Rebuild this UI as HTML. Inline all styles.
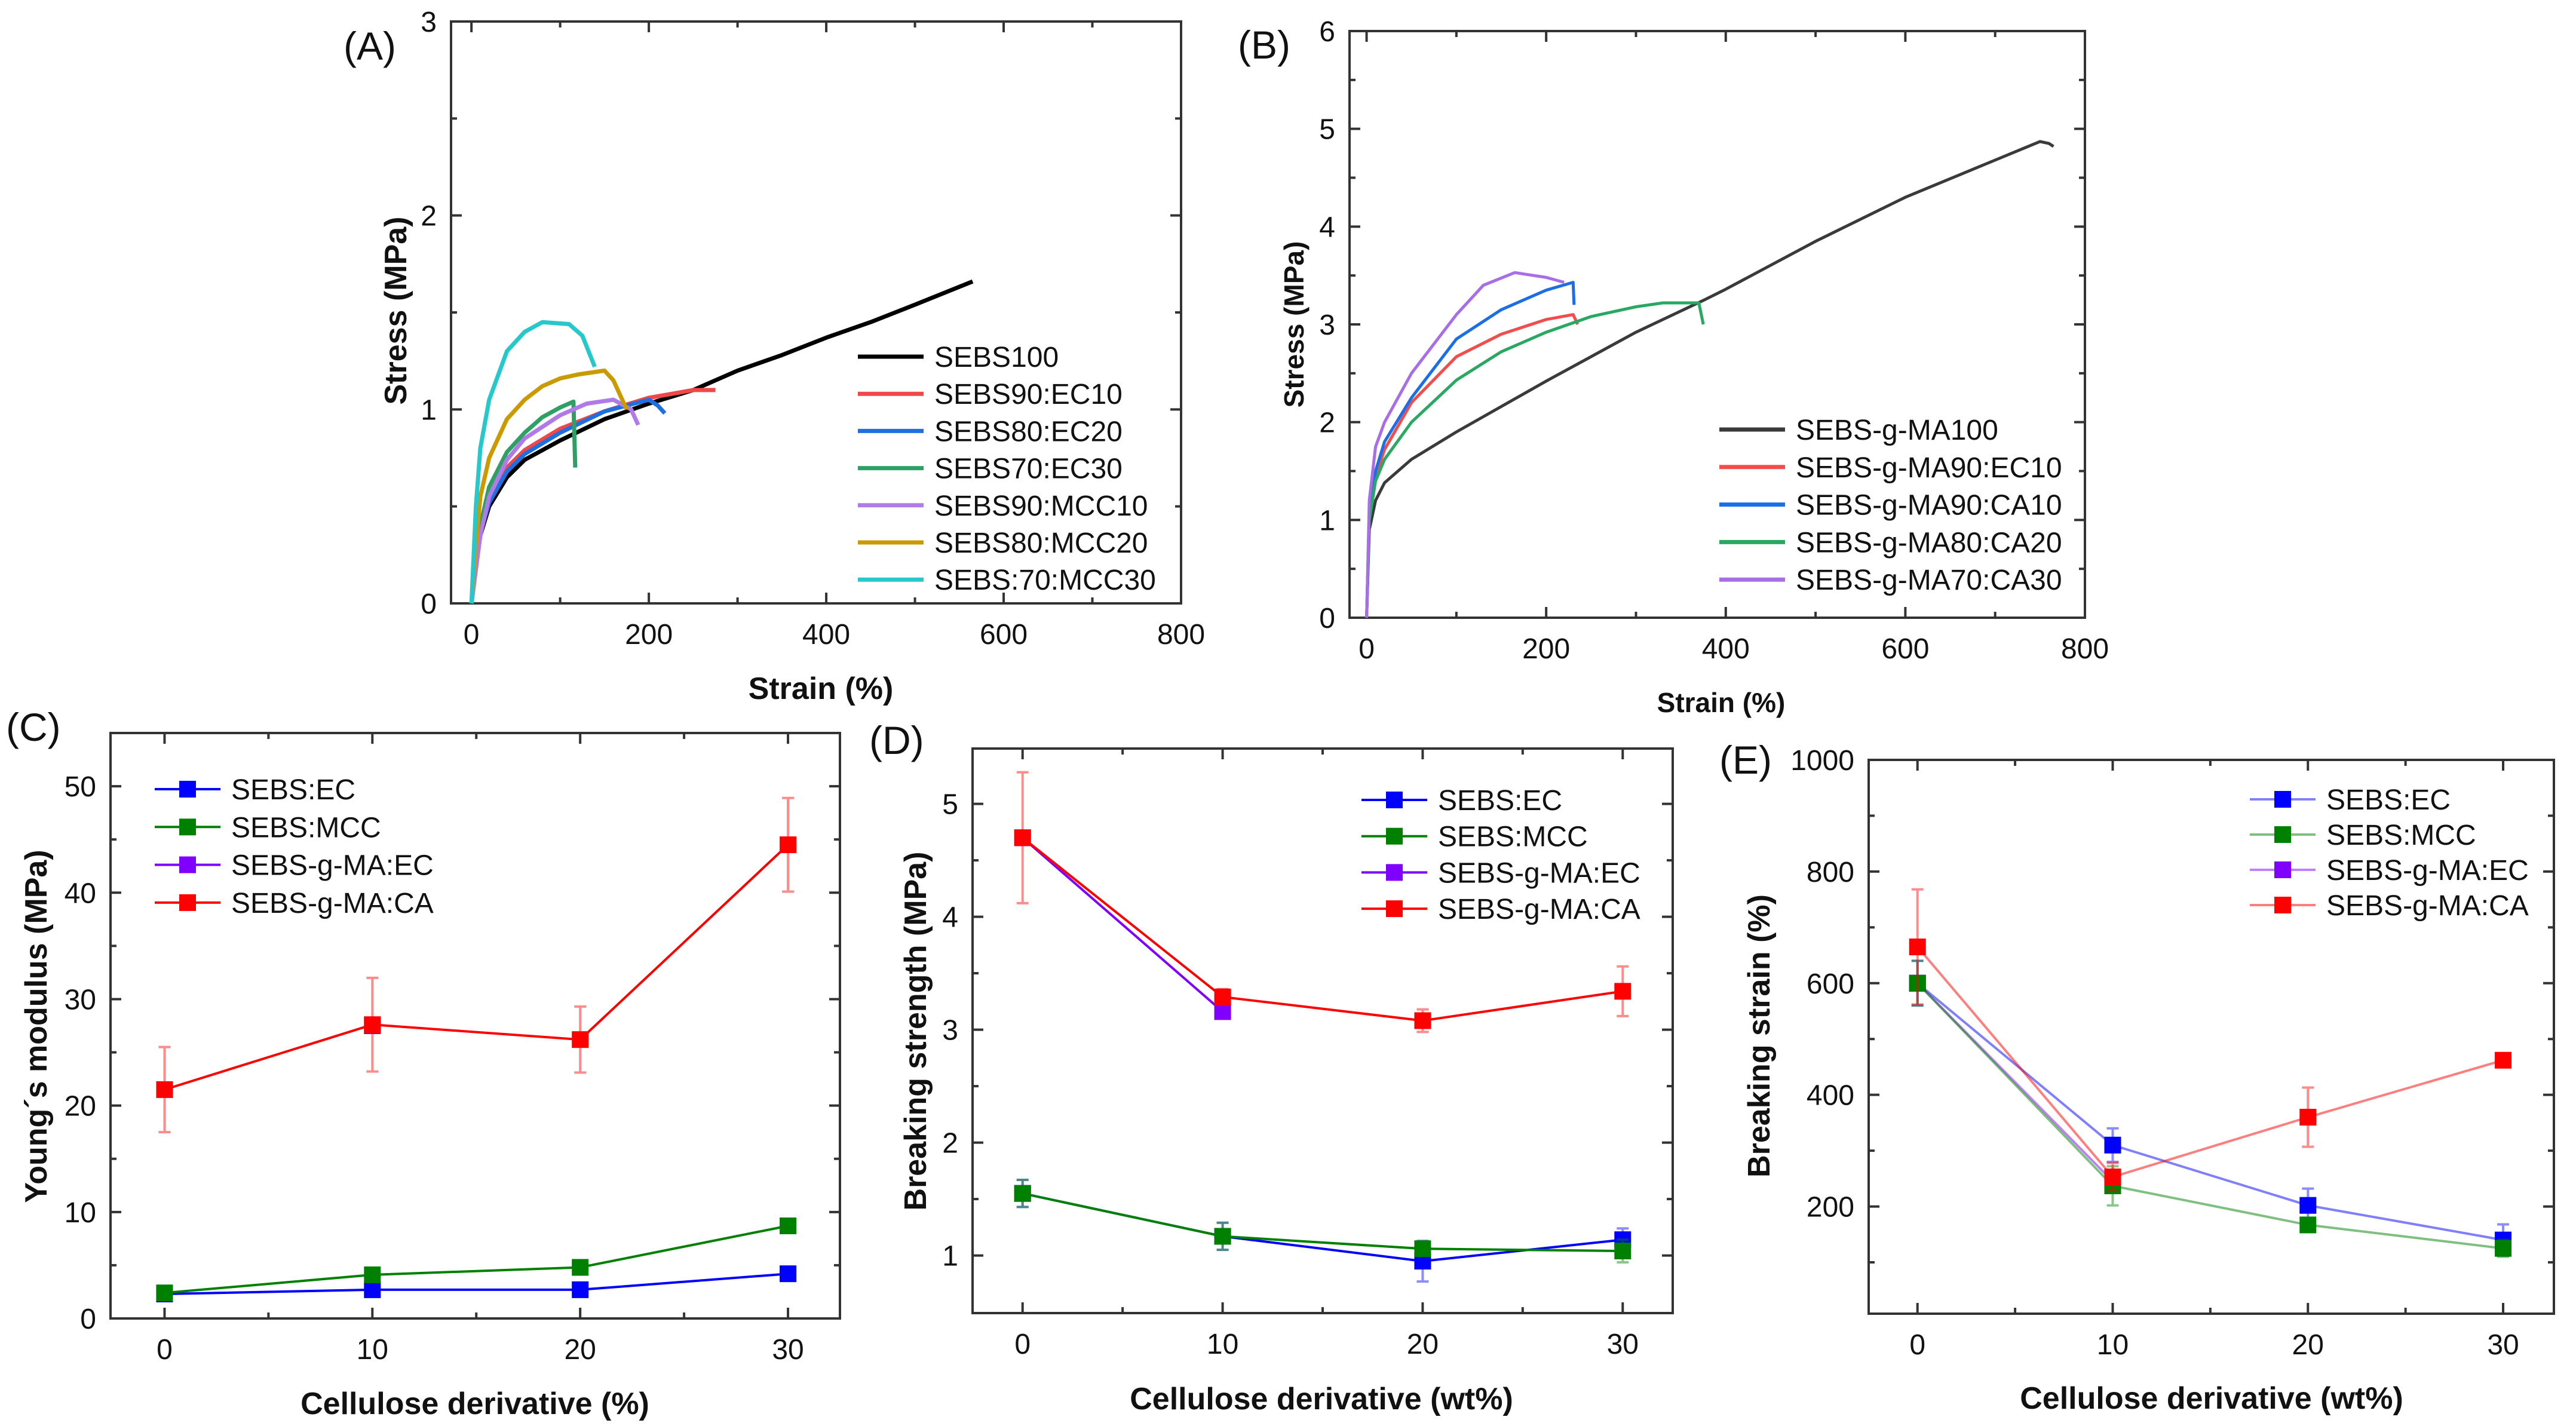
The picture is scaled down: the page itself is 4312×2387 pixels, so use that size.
<!DOCTYPE html>
<html><head><meta charset="utf-8"><style>
html,body{margin:0;padding:0;background:#fff;}
svg{display:block;font-family:"Liberation Sans",Arial,sans-serif;}
</style></head><body>
<svg id="fig" width="4312" height="2387" viewBox="0 0 4312 2387" xmlns="http://www.w3.org/2000/svg"></svg>
<script>
// ---------- Panel A data ----------
const aNames = ["SEBS100","SEBS90:EC10","SEBS80:EC20","SEBS70:EC30","SEBS90:MCC10","SEBS80:MCC20","SEBS:70:MCC30"];
const aColors = ["#000000","#f04848","#1e6fe0","#2fa065","#b07ae8","#c99b00","#26c8cc"];
const aStrain0 = [0,5,10,20,40,60,100,150,200,250,300,350,400,450,500,565];
const aStress0 = [0,0.2,0.35,0.5,0.65,0.74,0.84,0.95,1.03,1.1,1.2,1.28,1.37,1.45,1.54,1.66];
const aStrain1 = [0,10,20,40,60,100,150,200,250,275];
const aStress1 = [0,0.37,0.53,0.7,0.79,0.9,0.99,1.06,1.1,1.1];
const aStrain2 = [0,10,20,40,60,100,150,200,210,218];
const aStress2 = [0,0.36,0.52,0.68,0.77,0.88,0.99,1.05,1.02,0.98];
const aStrain3 = [0,10,20,40,60,80,100,115,117];
const aStress3 = [0,0.4,0.6,0.78,0.88,0.96,1.01,1.04,0.7];
const aStrain4 = [0,10,20,40,60,100,130,160,180,188];
const aStress4 = [0,0.35,0.55,0.74,0.85,0.97,1.03,1.05,1.0,0.92];
const aStrain5 = [0,5,10,20,40,60,80,100,120,150,160,175];
const aStress5 = [0,0.3,0.55,0.75,0.95,1.05,1.12,1.16,1.18,1.2,1.15,1.0];
const aStrain6 = [0,5,10,20,40,60,80,110,125,139];
const aStress6 = [0,0.5,0.8,1.05,1.3,1.4,1.45,1.44,1.38,1.22];
// ---------- Panel B data ----------
const bNames = ["SEBS-g-MA100","SEBS-g-MA90:EC10","SEBS-g-MA90:CA10","SEBS-g-MA80:CA20","SEBS-g-MA70:CA30"];
const bColors = ["#3a3a3a","#f24c4c","#1a6fe8","#28a860","#a86ee8"];
const bStrain0 = [0,3,10,20,50,100,200,300,376,400,500,600,700,750,760,765];
const bStress0 = [0,0.9,1.2,1.38,1.62,1.9,2.42,2.92,3.25,3.36,3.85,4.3,4.68,4.87,4.85,4.82];
const bStrain1 = [0,3,10,20,50,100,150,200,230,235];
const bStress1 = [0,1.1,1.45,1.72,2.2,2.67,2.9,3.05,3.1,3.0];
const bStrain2 = [0,3,10,20,50,100,150,200,230,231];
const bStress2 = [0,1.1,1.5,1.8,2.25,2.85,3.15,3.35,3.43,3.2];
const bStrain3 = [0,3,10,20,50,100,150,200,250,300,330,370,375];
const bStress3 = [0,1.0,1.4,1.62,2.0,2.43,2.72,2.92,3.08,3.18,3.22,3.22,3.0];
const bStrain4 = [0,3,10,20,50,100,130,165,200,220];
const bStress4 = [0,1.2,1.75,2.0,2.5,3.1,3.4,3.53,3.48,3.43];
// ---------- Panels C, D, E data ----------
const cdeNames = ["SEBS:EC","SEBS:MCC","SEBS-g-MA:EC","SEBS-g-MA:CA"];
const cdeColors = ["#0000ff","#008000","#8000ff","#ff0000"];
const cdeX = [0,10,20,30];
const cEC = [2.3,2.7,2.7,4.2];
const cMCC = [2.4,4.1,4.8,8.7];
const cGEC = [null,27.5,null,null];
const cCA = [21.5,27.6,26.2,44.5];
const cCAerr = [4.0,4.4,3.1,4.4];
const dEC = [1.55,1.17,0.95,1.14];
const dECerr = [0.12,0.12,0.18,0.1];
const dMCC = [1.55,1.17,1.06,1.04];
const dMCCerr = [0.12,0.12,0.06,0.1];
const dGEC = [4.7,3.16,null,null];
const dCA = [4.7,3.29,3.08,3.34];
const dCAerr = [0.58,0.07,0.1,0.22];
const eEC = [600,310,202,140];
const eECerr = [40,30,30,28];
const eMCC = [600,237,167,125];
const eMCCerr = [40,35,10,15];
const eGEC = [600,245,null,null];
const eCA = [665,253,360,462];
const eCAerr = [103,25,53,5];

const NS = "http://www.w3.org/2000/svg";
const fig = document.getElementById("fig");
function mk(tag, attrs, parent, text) {
  const e = document.createElementNS(NS, tag);
  for (const k in attrs) e.setAttribute(k, attrs[k]);
  if (text !== undefined) e.textContent = text;
  (parent || fig).appendChild(e);
  return e;
}

function panel(cfg) {
  const g = mk("g", {});
  
  
  const X = v => cfg.l + (v - cfg.x0) / (cfg.x1 - cfg.x0) * (cfg.r - cfg.l);
  const Y = v => cfg.b - (v - cfg.y0) / (cfg.y1 - cfg.y0) * (cfg.b - cfg.t);
  const fr = mk("rect", {x: cfg.l, y: cfg.t, width: cfg.r - cfg.l, height: cfg.b - cfg.t, fill: "none", stroke: "#333", "stroke-width": 4}, g);
  
  
  for (let v = cfg.xt0; v <= cfg.x1 + 1e-9; v += cfg.xminor) {
    const major = Math.abs(Math.round((v - cfg.xt0) / cfg.xmajor) * cfg.xmajor - (v - cfg.xt0)) < 1e-6;
    const len = major ? 18 : 10;
    mk("line", {x1: X(v), x2: X(v), y1: cfg.b, y2: cfg.b - len, stroke: "#333", "stroke-width": 4}, g);
    mk("line", {x1: X(v), x2: X(v), y1: cfg.t, y2: cfg.t + len, stroke: "#333", "stroke-width": 4}, g);
    if (major) {
      const t = mk("text", {x: X(v), y: cfg.b + 68, "text-anchor": "middle", "font-size": 48, fill: "#111"}, g, String(Math.round(v)));
      
      
    }
  }
  for (let v = cfg.yt0; v <= cfg.y1 + 1e-9; v += cfg.yminor) {
    if (v < cfg.y0 - 1e-9) continue;
    const major = Math.abs(Math.round((v - cfg.yt0) / cfg.ymajor) * cfg.ymajor - (v - cfg.yt0)) < 1e-6;
    const len = major ? 18 : 10;
    mk("line", {x1: cfg.l, x2: cfg.l + len, y1: Y(v), y2: Y(v), stroke: "#333", "stroke-width": 4}, g);
    mk("line", {x1: cfg.r, x2: cfg.r - len, y1: Y(v), y2: Y(v), stroke: "#333", "stroke-width": 4}, g);
    if (major) {
      const t = mk("text", {x: cfg.l - 24, y: Y(v) + 17, "text-anchor": "end", "font-size": 48, fill: "#111"}, g, String(Math.round(v * 10) / 10));
      
      
    }
  }
  const xt = mk("text", {x: cfg.xtx, y: cfg.xty, "text-anchor": "middle", "font-size": cfg.tfs || 52, "font-weight": "bold", fill: "#111"}, g, cfg.xtitle);
  
  
  const yt = mk("text", {x: 0, y: 0, transform: `translate(${cfg.ytx},${cfg.yty}) rotate(-90)`, "text-anchor": "middle", "font-size": cfg.tfs || 52, "font-weight": "bold", fill: "#111"}, g, cfg.ytitle);
  
  
  const pl = mk("text", {x: cfg.plx, y: cfg.ply, "font-size": 66, fill: "#111"}, g, cfg.plabel);
  
  
  return {g, X, Y};
}

function curvePanel(cfg, xs, ys, names, colors, legX, legY, legDy, w) {
  const p = panel(cfg);
  for (let i = 0; i < xs.length; i++) {
    const d = xs[i].map((v, j) => (j ? "L" : "M") + p.X(v).toFixed(1) + "," + p.Y(ys[i][j]).toFixed(1)).join(" ");
    const path = mk("path", {d: d, fill: "none", stroke: colors[i], "stroke-width": w, "stroke-linejoin": "round"}, p.g);
    
    
  }
  for (let i = 0; i < names.length; i++) {
    const y = legY + i * legDy;
    const le = mk("g", {}, p.g);
    
    
    mk("line", {x1: legX, x2: legX + 110, y1: y, y2: y, stroke: colors[i], "stroke-width": 7}, le);
    mk("text", {x: legX + 128, y: y + 17, "font-size": 48, fill: "#111"}, le, names[i]);
  }
}

function pointPanel(cfg, series, errs, names, colors, leg, lineOpacity, order) {
  const p = panel(cfg);
  for (const i of order) {
    const s = series[i];
    const sg = mk("g", {}, p.g);
    
    
    const pts = [];
    s.forEach((v, j) => { if (v !== null) pts.push([p.X(cdeX[j]), p.Y(v), j]); });
    if (pts.length > 1) mk("path", {d: pts.map((q, k) => (k ? "L" : "M") + q[0].toFixed(1) + "," + q[1].toFixed(1)).join(" "), fill: "none", stroke: colors[i], "stroke-width": 4, "stroke-opacity": lineOpacity}, sg);
    if (errs[i]) {
      pts.forEach(q => {
        const e = errs[i][q[2]];
        const y1 = p.Y(s[q[2]] + e), y2 = p.Y(s[q[2]] - e);
        const eb = mk("path", {d: `M${q[0]},${y1} V${y2} M${q[0]-10},${y1} H${q[0]+10} M${q[0]-10},${y2} H${q[0]+10}`, stroke: colors[i], "stroke-opacity": 0.45, "stroke-width": 4, fill: "none"}, sg);
        
        
      });
    }
    pts.forEach(q => {
      const m = mk("rect", {x: q[0] - 14, y: q[1] - 14, width: 28, height: 28, fill: colors[i]}, sg);
      
      
    });
  }
  for (let i = 0; i < names.length; i++) {
    const y = leg.y + i * leg.dy;
    const le = mk("g", {}, p.g);
    
    
    mk("line", {x1: leg.x, x2: leg.x + 110, y1: y, y2: y, stroke: colors[i], "stroke-width": 4, "stroke-opacity": lineOpacity}, le);
    mk("rect", {x: leg.x + 41, y: y - 14, width: 28, height: 28, fill: colors[i]}, le);
    mk("text", {x: leg.x + 128, y: y + 17, "font-size": 48, fill: "#111"}, le, names[i]);
  }
}

curvePanel({id: "panel-a-stress-strain", l: 755, r: 1977, t: 36, b: 1010, x0: -23, x1: 800, y0: 0, y1: 3,
  xt0: 0, xmajor: 200, xminor: 100, yt0: 0, ymajor: 1, yminor: 0.5,
  xtitle: "Strain (%)", xtx: 1374, xty: 1170, ytitle: "Stress (MPa)", ytx: 680, yty: 520,
  plabel: "(A)", plx: 575, ply: 100},
  [aStrain0, aStrain1, aStrain2, aStrain3, aStrain4, aStrain5, aStrain6],
  [aStress0, aStress1, aStress2, aStress3, aStress4, aStress5, aStress6],
  aNames, aColors, 1436, 597, 62.2, 7);

curvePanel({id: "panel-b-stress-strain", l: 2259, r: 3490, t: 52, b: 1034, x0: -19, x1: 800, y0: 0, y1: 6,
  xt0: 0, xmajor: 200, xminor: 100, yt0: 0, ymajor: 1, yminor: 0.5,
  xtitle: "Strain (%)", xtx: 2881, xty: 1192, ytitle: "Stress (MPa)", ytx: 2182, yty: 543, tfs: 46,
  plabel: "(B)", plx: 2072, ply: 98},
  [bStrain0, bStrain1, bStrain2, bStrain3, bStrain4],
  [bStress0, bStress1, bStress2, bStress3, bStress4],
  bNames, bColors, 2878, 719, 62.8, 5);

pointPanel({id: "panel-c-youngs-modulus", l: 185, r: 1406, t: 1227, b: 2207, x0: -2.6, x1: 32.5, y0: 0, y1: 55,
  xt0: 0, xmajor: 10, xminor: 5, yt0: 0, ymajor: 10, yminor: 5,
  xtitle: "Cellulose derivative (%)", xtx: 795, xty: 2367, ytitle: "Young´s modulus (MPa)", ytx: 78, yty: 1718,
  plabel: "(C)", plx: 10, ply: 1240},
  [cEC, cMCC, cGEC, cCA], [null, null, null, cCAerr], cdeNames, cdeColors, {x: 259, y: 1321, dy: 63.3}, 1, [0,1,2,3]);

pointPanel({id: "panel-d-breaking-strength", l: 1628, r: 2800, t: 1253, b: 2198, x0: -2.5, x1: 32.5, y0: 0.49, y1: 5.49,
  xt0: 0, xmajor: 10, xminor: 5, yt0: 1, ymajor: 1, yminor: 0.5,
  xtitle: "Cellulose derivative (wt%)", xtx: 2212, xty: 2359, ytitle: "Breaking strength (MPa)", ytx: 1550, yty: 1726,
  plabel: "(D)", plx: 1455, ply: 1262},
  [dEC, dMCC, dGEC, dCA], [dECerr, dMCCerr, null, dCAerr], cdeNames, cdeColors, {x: 2279, y: 1339, dy: 60.7}, 1, [2,0,1,3]);

pointPanel({id: "panel-e-breaking-strain", l: 3128, r: 4275, t: 1272, b: 2199, x0: -2.5, x1: 32.6, y0: 8, y1: 1000,
  xt0: 0, xmajor: 10, xminor: 5, yt0: 0, ymajor: 200, yminor: 100,
  xtitle: "Cellulose derivative (wt%)", xtx: 3702, xty: 2358, ytitle: "Breaking strain (%)", ytx: 2962, yty: 1734,
  plabel: "(E)", plx: 2878, ply: 1295},
  [eEC, eMCC, eGEC, eCA], [eECerr, eMCCerr, null, eCAerr], cdeNames, cdeColors, {x: 3766, y: 1338, dy: 59}, 0.5, [2,0,1,3]);
</script>
</body></html>
